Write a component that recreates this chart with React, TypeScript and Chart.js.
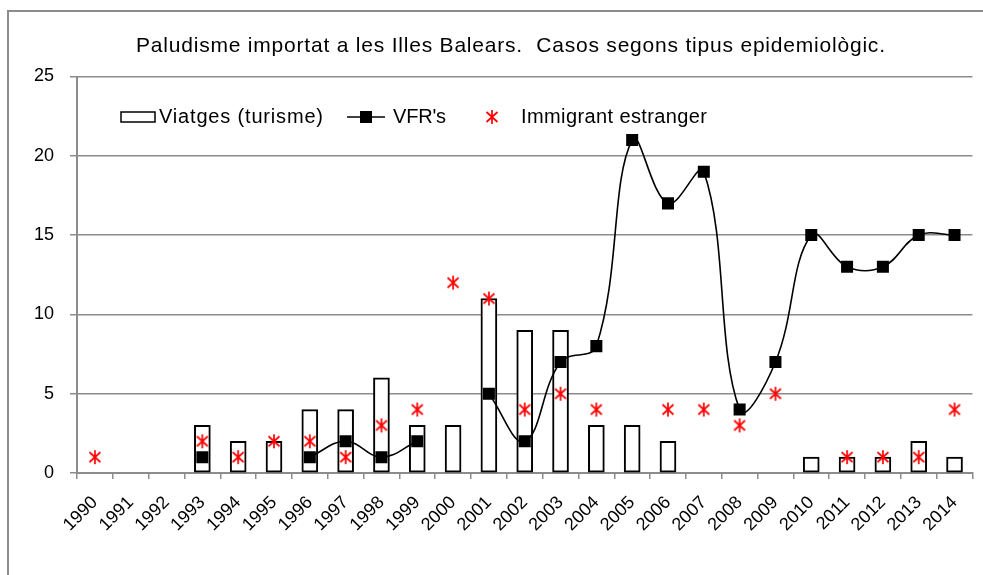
import React, { useEffect, useRef } from "react";
import { Chart, registerables } from "chart.js";
Chart.register(...registerables);

const years = ["1990","1991","1992","1993","1994","1995","1996","1997","1998","1999","2000","2001","2002","2003","2004","2005","2006","2007","2008","2009","2010","2011","2012","2013","2014"];
const viatges = [null,null,null,3,2,2,4,4,6,3,3,11,9,9,3,3,2,null,null,null,1,1,1,2,1];
const vfr = [null,null,null,1,null,null,1,2,1,2,null,5,2,7,8,21,17,19,4,7,15,13,13,15,15];
const immigrant = [1,null,null,2,1,2,2,1,3,4,12,11,4,5,4,null,4,4,3,5,null,1,1,1,4];
const yTicks = [0, 5, 10, 15, 20, 25];

const titleText = "Paludisme importat a les Illes Balears.  Casos segons tipus epidemiològic.";
const legendLabels = ["Viatges (turisme)", "VFR's", "Immigrant estranger"];

const FONT = '"Liberation Sans", Arial, sans-serif';

function makeStar(): HTMLCanvasElement {
  const c = document.createElement("canvas");
  c.width = 16;
  c.height = 16;
  const g = c.getContext("2d")!;
  g.strokeStyle = "#ff0000";
  g.lineWidth = 1.7;
  g.beginPath();
  g.moveTo(2.5, 3); g.lineTo(13.5, 13);
  g.moveTo(13.5, 3); g.lineTo(2.5, 13);
  g.moveTo(8, 1); g.lineTo(8, 15);
  g.stroke();
  return c;
}

// draw text stretched with letter spacing so it spans a target width
function fitText(ctx: CanvasRenderingContext2D, text: string, x: number, y: number, width: number) {
  (ctx as any).letterSpacing = "0px";
  const w = ctx.measureText(text).width;
  const sp = (width - w) / Math.max(1, text.length - 1);
  (ctx as any).letterSpacing = `${sp}px`;
  ctx.fillText(text, x, y);
  (ctx as any).letterSpacing = "0px";
}

export default function App() {
  const ref = useRef<HTMLCanvasElement>(null);
  useEffect(() => {
    const star = makeStar();
    const overlay = {
      id: "overlay",
      afterDraw(chart: any) {
        const ctx = chart.ctx;
        ctx.save();
        ctx.fillStyle = "#000";
        ctx.textBaseline = "middle";
        ctx.textAlign = "left";
        ctx.font = `21px ${FONT}`;
        fitText(ctx, titleText, 136, 46, 749);
        // legend
        const ly = 117;
        ctx.font = `20px ${FONT}`;
        ctx.fillStyle = "#fff";
        ctx.strokeStyle = "#000";
        ctx.lineWidth = 1.5;
        ctx.fillRect(121, 112, 34, 10);
        ctx.strokeRect(121, 112, 34, 10);
        ctx.fillStyle = "#000";
        fitText(ctx, legendLabels[0], 159, ly, 164);
        ctx.beginPath();
        ctx.moveTo(347, ly);
        ctx.lineTo(385, ly);
        ctx.stroke();
        ctx.fillRect(360, ly - 6, 12, 12);
        fitText(ctx, legendLabels[1], 393, ly, 53);
        ctx.drawImage(star, 484, ly - 8);
        fitText(ctx, legendLabels[2], 521, ly, 186);
        ctx.restore();
      },
    };
    const chart = new Chart(ref.current!, {
      type: "bar",
      data: {
        labels: years,
        datasets: [
          {
            type: "bar",
            label: legendLabels[0],
            data: viatges,
            backgroundColor: "#ffffff",
            borderColor: "#000000",
            borderWidth: 2,
            borderSkipped: false,
            barThickness: 16,
            order: 3,
          } as any,
          {
            type: "line",
            label: legendLabels[1],
            data: vfr,
            borderColor: "#000000",
            borderWidth: 1.6,
            pointStyle: "rect",
            pointRadius: 8.5,
            pointBackgroundColor: "#000",
            pointBorderWidth: 0,
            tension: 0.4,
            capBezierPoints: false,
            spanGaps: false,
            order: 2,
          } as any,
          {
            type: "line",
            label: legendLabels[2],
            data: immigrant,
            showLine: false,
            pointStyle: star,
            pointRadius: 8,
            order: 1,
          } as any,
        ],
      },
      options: {
        responsive: false,
        animation: false,
        layout: { padding: { top: 76.5, right: 10, left: 0, bottom: 0 } },
        plugins: { legend: { display: false }, title: { display: false }, tooltip: { enabled: false } },
        scales: {
          x: {
            offset: true,
            grid: { display: true, drawOnChartArea: false, drawTicks: true, tickLength: 6, offset: true, color: "#8c8c8c", lineWidth: 1.5 },
            border: { color: "#8c8c8c", width: 2 },
            ticks: { font: { family: FONT, size: 18 }, color: "#000", minRotation: 45, maxRotation: 45, padding: 13, autoSkip: false },
            afterFit: (s: any) => { s.height = 102; },
          },
          y: {
            min: 0,
            max: 25,
            afterBuildTicks: (s: any) => { s.ticks = yTicks.map((v) => ({ value: v })); },
            grid: { color: "#8c8c8c", lineWidth: 1.5, tickLength: 7 },
            border: { color: "#8c8c8c", width: 2 },
            ticks: { font: { family: FONT, size: 18 }, color: "#000", padding: 16 },
            afterFit: (s: any) => { s.width = 77; },
          },
        },
      },
      plugins: [overlay],
    } as any);
    return () => chart.destroy();
  }, []);
  return (
    <>
      <div style={{ position: "fixed", left: 7, top: 10, width: 1100, height: 1000, borderLeft: "2px solid #8c8c8c", borderTop: "2px solid #8c8c8c" }} />
      <canvas ref={ref} width={983} height={575} style={{ position: "fixed", left: 0, top: 0 }} />
    </>
  );
}
